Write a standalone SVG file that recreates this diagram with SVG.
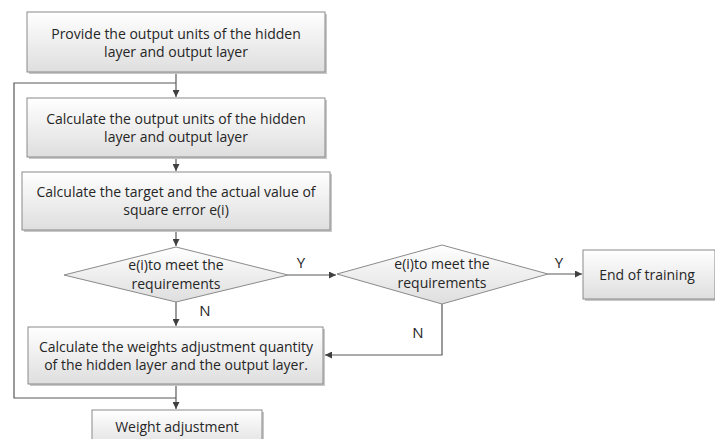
<svg xmlns="http://www.w3.org/2000/svg" width="715" height="439" viewBox="0 0 715 439">
<defs>
<linearGradient id="g" x1="0" y1="0" x2="0" y2="1">
<stop offset="0" stop-color="#ffffff"/>
<stop offset="1" stop-color="#dedede"/>
</linearGradient>
<marker id="a" viewBox="0 0 10 10" refX="10" refY="5" markerWidth="7" markerHeight="7" orient="auto" markerUnits="userSpaceOnUse">
<path d="M0,0 L10,5 L0,10 z" fill="#404040"/>
</marker>
</defs>
<style>
.n{fill:url(#g);stroke:#8a8a8a;stroke-width:1}
.sh{fill:#c8c8c8}
.t{font-family:"Open Sans","Liberation Sans",sans-serif;font-size:14px;fill:#262626;text-anchor:middle}
.l{font-family:"Open Sans","Liberation Sans",sans-serif;font-size:15px;fill:#262626;text-anchor:middle}
.c{fill:none;stroke:#595959;stroke-width:1.2}
</style>
<rect width="715" height="439" fill="#ffffff"/>
<g id="connectors">
<path class="c" d="M176,72 V97" marker-end="url(#a)"/>
<path class="c" d="M176,398 H14 V83 H176"/>
<path class="c" d="M176,158 V171" marker-end="url(#a)"/>
<path class="c" d="M176,231 V246" marker-end="url(#a)"/>
<path class="c" d="M288,275 H336" marker-end="url(#a)"/>
<path class="c" d="M548,274 H582" marker-end="url(#a)"/>
<path class="c" d="M176,302 V326" marker-end="url(#a)"/>
<path class="c" d="M442,304 V355 H325" marker-end="url(#a)"/>
<path class="c" d="M176,385 V409" marker-end="url(#a)"/>
<text class="l" x="301" y="268">Y</text>
<text class="l" x="559" y="268">Y</text>
<text class="l" x="205" y="316">N</text>
<text class="l" x="418" y="338">N</text>
</g>
<g id="n1">
<rect class="sh" x="29" y="14" width="298" height="60"/>
<rect class="n" x="27" y="12" width="298" height="60"/>
<text class="t" x="176" y="39">Provide the output units of the hidden</text>
<text class="t" x="176" y="57">layer and output layer</text>
</g>
<g id="n2">
<rect class="sh" x="29" y="100" width="298" height="59"/>
<rect class="n" x="27" y="98" width="298" height="59"/>
<text class="t" x="176" y="124">Calculate the output units of the hidden</text>
<text class="t" x="176" y="142">layer and output layer</text>
</g>
<g id="n3">
<rect class="sh" x="24" y="174" width="308" height="58"/>
<rect class="n" x="22" y="172" width="308" height="58"/>
<text class="t" x="176" y="197">Calculate the target and the actual value of</text>
<text class="t" x="176" y="215">square error e(i)</text>
</g>
<g id="d1">
<polygon class="n" points="176,247 288,275 176,302 64,275"/>
<text class="t" x="176" y="270">e(i)to meet the</text>
<text class="t" x="176" y="289">requirements</text>
</g>
<g id="d2">
<polygon class="n" points="442,245 548,274 442,304 337,274"/>
<text class="t" x="442" y="269">e(i)to meet the</text>
<text class="t" x="442" y="288">requirements</text>
</g>
<g id="n4">
<rect class="sh" x="585" y="252" width="132" height="49"/>
<rect class="n" x="583" y="250" width="132" height="49"/>
<text class="t" x="647" y="280">End of training</text>
</g>
<g id="n5">
<rect class="sh" x="30" y="329" width="295" height="57"/>
<rect class="n" x="28" y="327" width="295" height="57"/>
<text class="t" x="176" y="352">Calculate the weights adjustment quantity</text>
<text class="t" x="176" y="370">of the hidden layer and the output layer.</text>
</g>
<g id="n6">
<rect class="sh" x="94" y="412" width="170" height="40"/>
<rect class="n" x="92" y="410" width="170" height="40"/>
<text class="t" x="177" y="432">Weight adjustment</text>
</g>
</svg>
